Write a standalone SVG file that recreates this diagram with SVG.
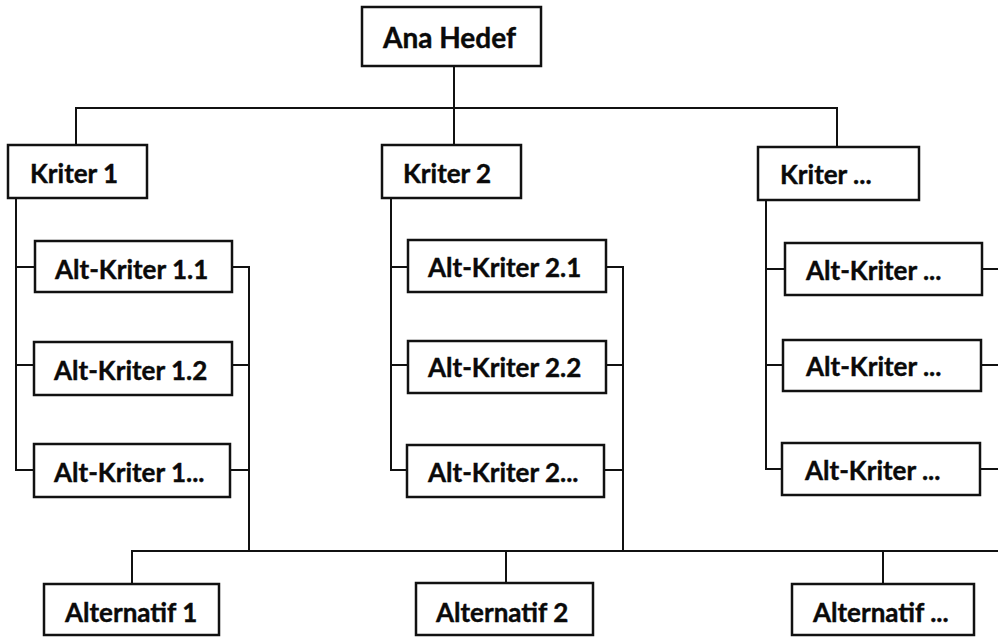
<svg xmlns="http://www.w3.org/2000/svg" width="998" height="637" viewBox="0 0 998 637">
  <style>
    .box { fill: #ffffff; stroke: #111111; stroke-width: 2.5; }
    .wire { fill: none; stroke: #111111; stroke-width: 2; }
    .lbl { font-family: Lato, "Open Sans", "Liberation Sans", sans-serif; font-weight: bold; font-size: 26px; fill: #0a0a0a; stroke: #0a0a0a; stroke-width: 0.4; }
    .big { font-size: 28px; }
  </style>
  <rect width="998" height="637" fill="#ffffff"/>

  <!-- connectors -->
  <g id="connectors">
    <!-- goal to criteria -->
    <path class="wire" d="M454 66 V145"/>
    <path class="wire" d="M76 145 V108 H837 V147" stroke-width="2.5"/>
    <!-- criteria to sub-criteria (left rails) -->
    <path class="wire" d="M16 198 V470 H34 M16 267 H35 M16 365 H34"/>
    <path class="wire" d="M391 198 V470 H407 M391 267 H408 M391 365 H408"/>
    <path class="wire" d="M766 200 V469 H782 M766 269 H785 M766 365 H783"/>
    <!-- sub-criteria to alternatives (right rails) -->
    <path class="wire" d="M232 267 H249 V551 M232 365 H249 M230 470 H249"/>
    <path class="wire" d="M606 267 H623 V551 M606 365 H623 M604 470 H623"/>
    <path class="wire" d="M982 269 H998 M981 365 H998 M980 469 H998"/>
    <!-- alternatives bus -->
    <path class="wire" d="M132 584 V551 H998 M506 551 V583 M883 551 V584"/>
  </g>

  <g id="ana-hedef">
    <rect class="box" x="362" y="7" width="179" height="59"/>
    <text class="lbl big" x="383" y="48">Ana Hedef</text>
  </g>

  <g id="kriter-1">
    <rect class="box" x="8" y="145" width="139" height="53"/>
    <text class="lbl" x="30" y="183">Kriter 1</text>
  </g>
  <g id="kriter-2">
    <rect class="box" x="382" y="145" width="139" height="53"/>
    <text class="lbl" x="403" y="183">Kriter 2</text>
  </g>
  <g id="kriter-n">
    <rect class="box" x="758" y="147" width="161" height="53"/>
    <text class="lbl" x="780" y="184">Kriter ...</text>
  </g>

  <g id="alt-kriter-1-1">
    <rect class="box" x="35" y="241" width="197" height="51"/>
    <text class="lbl" x="55" y="279">Alt-Kriter 1.1</text>
  </g>
  <g id="alt-kriter-1-2">
    <rect class="box" x="34" y="342" width="198" height="53"/>
    <text class="lbl" x="54" y="380">Alt-Kriter 1.2</text>
  </g>
  <g id="alt-kriter-1-n">
    <rect class="box" x="34" y="444" width="196" height="53"/>
    <text class="lbl" x="54" y="482">Alt-Kriter 1...</text>
  </g>

  <g id="alt-kriter-2-1">
    <rect class="box" x="408" y="240" width="198" height="52"/>
    <text class="lbl" x="428" y="277">Alt-Kriter 2.1</text>
  </g>
  <g id="alt-kriter-2-2">
    <rect class="box" x="408" y="341" width="198" height="52"/>
    <text class="lbl" x="428" y="377">Alt-Kriter 2.2</text>
  </g>
  <g id="alt-kriter-2-n">
    <rect class="box" x="407" y="445" width="197" height="52"/>
    <text class="lbl" x="428" y="482">Alt-Kriter 2...</text>
  </g>

  <g id="alt-kriter-n-1">
    <rect class="box" x="785" y="243" width="197" height="52"/>
    <text class="lbl" x="806" y="280">Alt-Kriter ...</text>
  </g>
  <g id="alt-kriter-n-2">
    <rect class="box" x="783" y="340" width="198" height="51"/>
    <text class="lbl" x="806" y="376">Alt-Kriter ...</text>
  </g>
  <g id="alt-kriter-n-n">
    <rect class="box" x="782" y="443" width="198" height="52"/>
    <text class="lbl" x="805" y="480">Alt-Kriter ...</text>
  </g>

  <g id="alternatif-1">
    <rect class="box" x="44" y="584" width="175" height="51"/>
    <text class="lbl" x="65" y="622">Alternatif 1</text>
  </g>
  <g id="alternatif-2">
    <rect class="box" x="416" y="583" width="177" height="52"/>
    <text class="lbl" x="436" y="622">Alternatif 2</text>
  </g>
  <g id="alternatif-n">
    <rect class="box" x="792" y="584" width="182" height="51"/>
    <text class="lbl" x="813" y="622">Alternatif ...</text>
  </g>
</svg>
